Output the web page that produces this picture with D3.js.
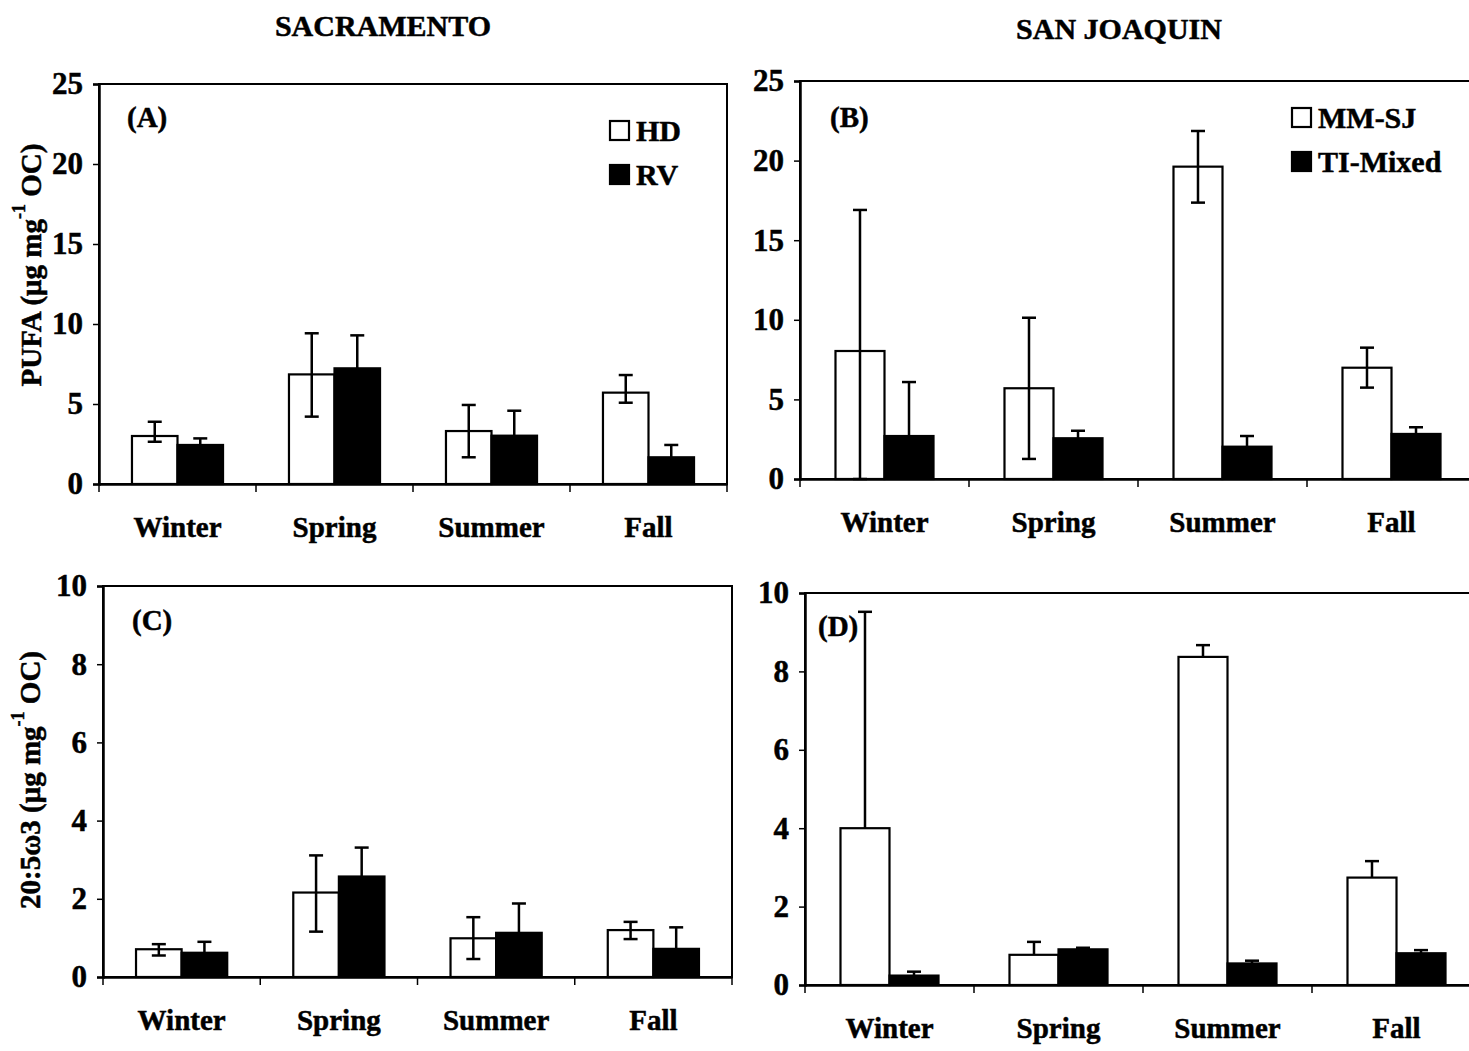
<!DOCTYPE html>
<html>
<head>
<meta charset="utf-8">
<script src="https://cdn.jsdelivr.net/npm/d3@7"></script>
<style>
  body { margin: 0; background: #fff; }
  text { font-family: "Liberation Serif", "Times New Roman", serif; font-weight: bold; fill: #000;
         stroke: #000; stroke-width: 0.5px; }
</style>
</head>
<body>
<svg id="fig" width="1469" height="1051"></svg>
<script>
// data
const seasons = ["Winter", "Spring", "Summer", "Fall"]

// (A) PUFA, Sacramento
const hdPufa   = [3.0, 6.85, 3.31, 5.71]
const hdPufaLo = [2.64, 4.21, 1.67, 5.08]
const hdPufaHi = [3.89, 9.42, 4.94, 6.81]
const rvPufa   = [2.44, 7.23, 3.02, 1.67]
const rvPufaHi = [2.85, 9.29, 4.58, 2.44]

// (B) PUFA, San Joaquin
const mmPufa   = [8.04, 5.7, 19.62, 6.99]
const mmPufaLo = [0, 1.26, 17.36, 5.74]
const mmPufaHi = [16.9, 10.13, 21.86, 8.25]
const tiPufa   = [2.7, 2.56, 2.03, 2.83]
const tiPufaHi = [6.09, 3.03, 2.7, 3.25]

// (C) 20:5w3, Sacramento
const hdEpa   = [0.71, 2.16, 0.99, 1.2]
const hdEpaLo = [0.55, 1.16, 0.46, 0.97]
const hdEpaHi = [0.84, 3.11, 1.53, 1.41]
const rvEpa   = [0.62, 2.57, 1.13, 0.72]
const rvEpaHi = [0.90, 3.31, 1.88, 1.27]

// (D) 20:5w3, San Joaquin (plus-only error bars)
const mmEpa   = [4.0, 0.77, 8.37, 2.74]
const mmEpaHi = [9.52, 1.1, 8.67, 3.16]
const tiEpa   = [0.24, 0.91, 0.55, 0.81]
const tiEpaHi = [0.34, 0.95, 0.62, 0.89]

const pufaTicks = [0, 5, 10, 15, 20, 25]
const epaTicks = [0, 2, 4, 6, 8, 10]

const svg = d3.select("#fig")

const panels = [
  { tag: "(A)", left: 99, right: 727, top: 84, zero: 484, yMax: 25, ticks: pufaTicks,
    tagX: 127, tagY: 127, names: ["HD", "RV"], legX: 610, legY: 121,
    series: [{ v: hdPufa, lo: hdPufaLo, hi: hdPufaHi }, { v: rvPufa, lo: null, hi: rvPufaHi }] },
  { tag: "(B)", left: 800, right: 1476, top: 81, zero: 479, yMax: 25, ticks: pufaTicks,
    tagX: 830, tagY: 127, names: ["MM-SJ", "TI-Mixed"], legX: 1292, legY: 108,
    series: [{ v: mmPufa, lo: mmPufaLo, hi: mmPufaHi }, { v: tiPufa, lo: null, hi: tiPufaHi }] },
  { tag: "(C)", left: 103, right: 732, top: 586, zero: 977, yMax: 10, ticks: epaTicks,
    tagX: 132, tagY: 630,
    series: [{ v: hdEpa, lo: hdEpaLo, hi: hdEpaHi }, { v: rvEpa, lo: null, hi: rvEpaHi }] },
  { tag: "(D)", left: 805, right: 1481, top: 593, zero: 985, yMax: 10, ticks: epaTicks,
    tagX: 818, tagY: 636,
    series: [{ v: mmEpa, lo: null, hi: mmEpaHi }, { v: tiEpa, lo: null, hi: tiEpaHi }] }
]

const fills = ["#fff", "#000"]

panels.forEach(p => {
  const g = svg.append("g")
  const x = d3.scaleBand().domain(seasons).range([p.left, p.right])
  const y = d3.scaleLinear().domain([0, p.yMax]).range([p.zero, p.top])
  const bw = x.bandwidth()
  const xIn = d3.scaleBand().domain([0, 1]).range([bw * 0.21, bw * 0.79])

  // plot frame
  g.append("rect")
    .attr("x", p.left).attr("y", p.top)
    .attr("width", p.right - p.left).attr("height", p.zero - p.top)
    .attr("fill", "none").attr("stroke", "#000").attr("stroke-width", 2)

  // y axis
  const ya = g.append("g")
    .attr("transform", `translate(${p.left},0)`)
    .call(d3.axisLeft(y).tickValues(p.ticks).tickSize(6).tickPadding(10))
  ya.select(".domain").attr("stroke-width", 2.5)
  ya.selectAll(".tick line").attr("stroke-width", 1.5)
  ya.selectAll("text").attr("font-size", 31).attr("font-family", null)

  // x axis labels + boundary ticks
  const xa = g.append("g")
    .attr("transform", `translate(0,${p.zero})`)
    .call(d3.axisBottom(x).tickSize(0).tickPadding(32))
  xa.select(".domain").attr("stroke-width", 2.5)
  xa.selectAll("text").attr("font-size", 29).attr("font-family", null)
  g.selectAll(".bound")
    .data(seasons.map(s => x(s)).concat([p.right]))
    .join("line")
    .attr("x1", d => d).attr("x2", d => d)
    .attr("y1", p.zero).attr("y2", p.zero + 8)
    .attr("stroke", "#000").attr("stroke-width", 1.5)

  // bars and error bars
  p.series.forEach((s, i) => {
    const rows = seasons.map((name, j) => ({ name, v: s.v[j], lo: s.lo ? s.lo[j] : null, hi: s.hi[j] }))
    g.append("g").selectAll("rect")
      .data(rows)
      .join("rect")
      .attr("x", d => x(d.name) + xIn(i))
      .attr("y", d => y(d.v))
      .attr("width", xIn.bandwidth())
      .attr("height", d => y(0) - y(d.v))
      .attr("fill", fills[i])
      .attr("stroke", "#000").attr("stroke-width", 2.2)

    const eg = g.append("g").attr("stroke", "#000").attr("stroke-width", 2.5)
    rows.forEach(d => {
      const cx = x(d.name) + xIn(i) + xIn.bandwidth() / 2
      const yLow = d.lo === null ? y(d.v) : y(d.lo)
      eg.append("line").attr("x1", cx).attr("x2", cx).attr("y1", y(d.hi)).attr("y2", yLow)
      eg.append("line").attr("x1", cx - 7).attr("x2", cx + 7).attr("y1", y(d.hi)).attr("y2", y(d.hi))
      if (d.lo !== null) {
        eg.append("line").attr("x1", cx - 7).attr("x2", cx + 7).attr("y1", y(d.lo)).attr("y2", y(d.lo))
      }
    })
  })

  // panel tag
  g.append("text").attr("x", p.tagX).attr("y", p.tagY).attr("font-size", 29).text(p.tag)

  // legend
  if (p.names) {
    p.names.forEach((n, i) => {
      g.append("rect")
        .attr("x", p.legX).attr("y", p.legY + i * 44)
        .attr("width", 19).attr("height", 19)
        .attr("fill", fills[i]).attr("stroke", "#000").attr("stroke-width", 2.2)
      g.append("text")
        .attr("x", p.legX + 26).attr("y", p.legY + i * 44 + 20)
        .attr("font-size", 30).text(n)
    })
  }
})

// column titles
svg.append("text").attr("x", 383).attr("y", 36).attr("text-anchor", "middle")
  .attr("font-size", 30).text("SACRAMENTO")
svg.append("text").attr("x", 1119).attr("y", 39).attr("text-anchor", "middle")
  .attr("font-size", 30).text("SAN JOAQUIN")

// y axis titles
function yTitle(cx, cy, main) {
  const t = svg.append("text")
    .attr("transform", `translate(${cx},${cy}) rotate(-90)`)
    .attr("text-anchor", "middle").attr("dominant-baseline", "central")
    .attr("font-size", 29)
  t.append("tspan").text(main + " (μg mg")
  t.append("tspan").attr("dy", -12).attr("font-size", 18).text("-1")
  t.append("tspan").attr("dy", 12).text(" OC)")
}
yTitle(31, 265, "PUFA")
yTitle(30, 780, "20:5ω3")
</script>
</body>
</html>
